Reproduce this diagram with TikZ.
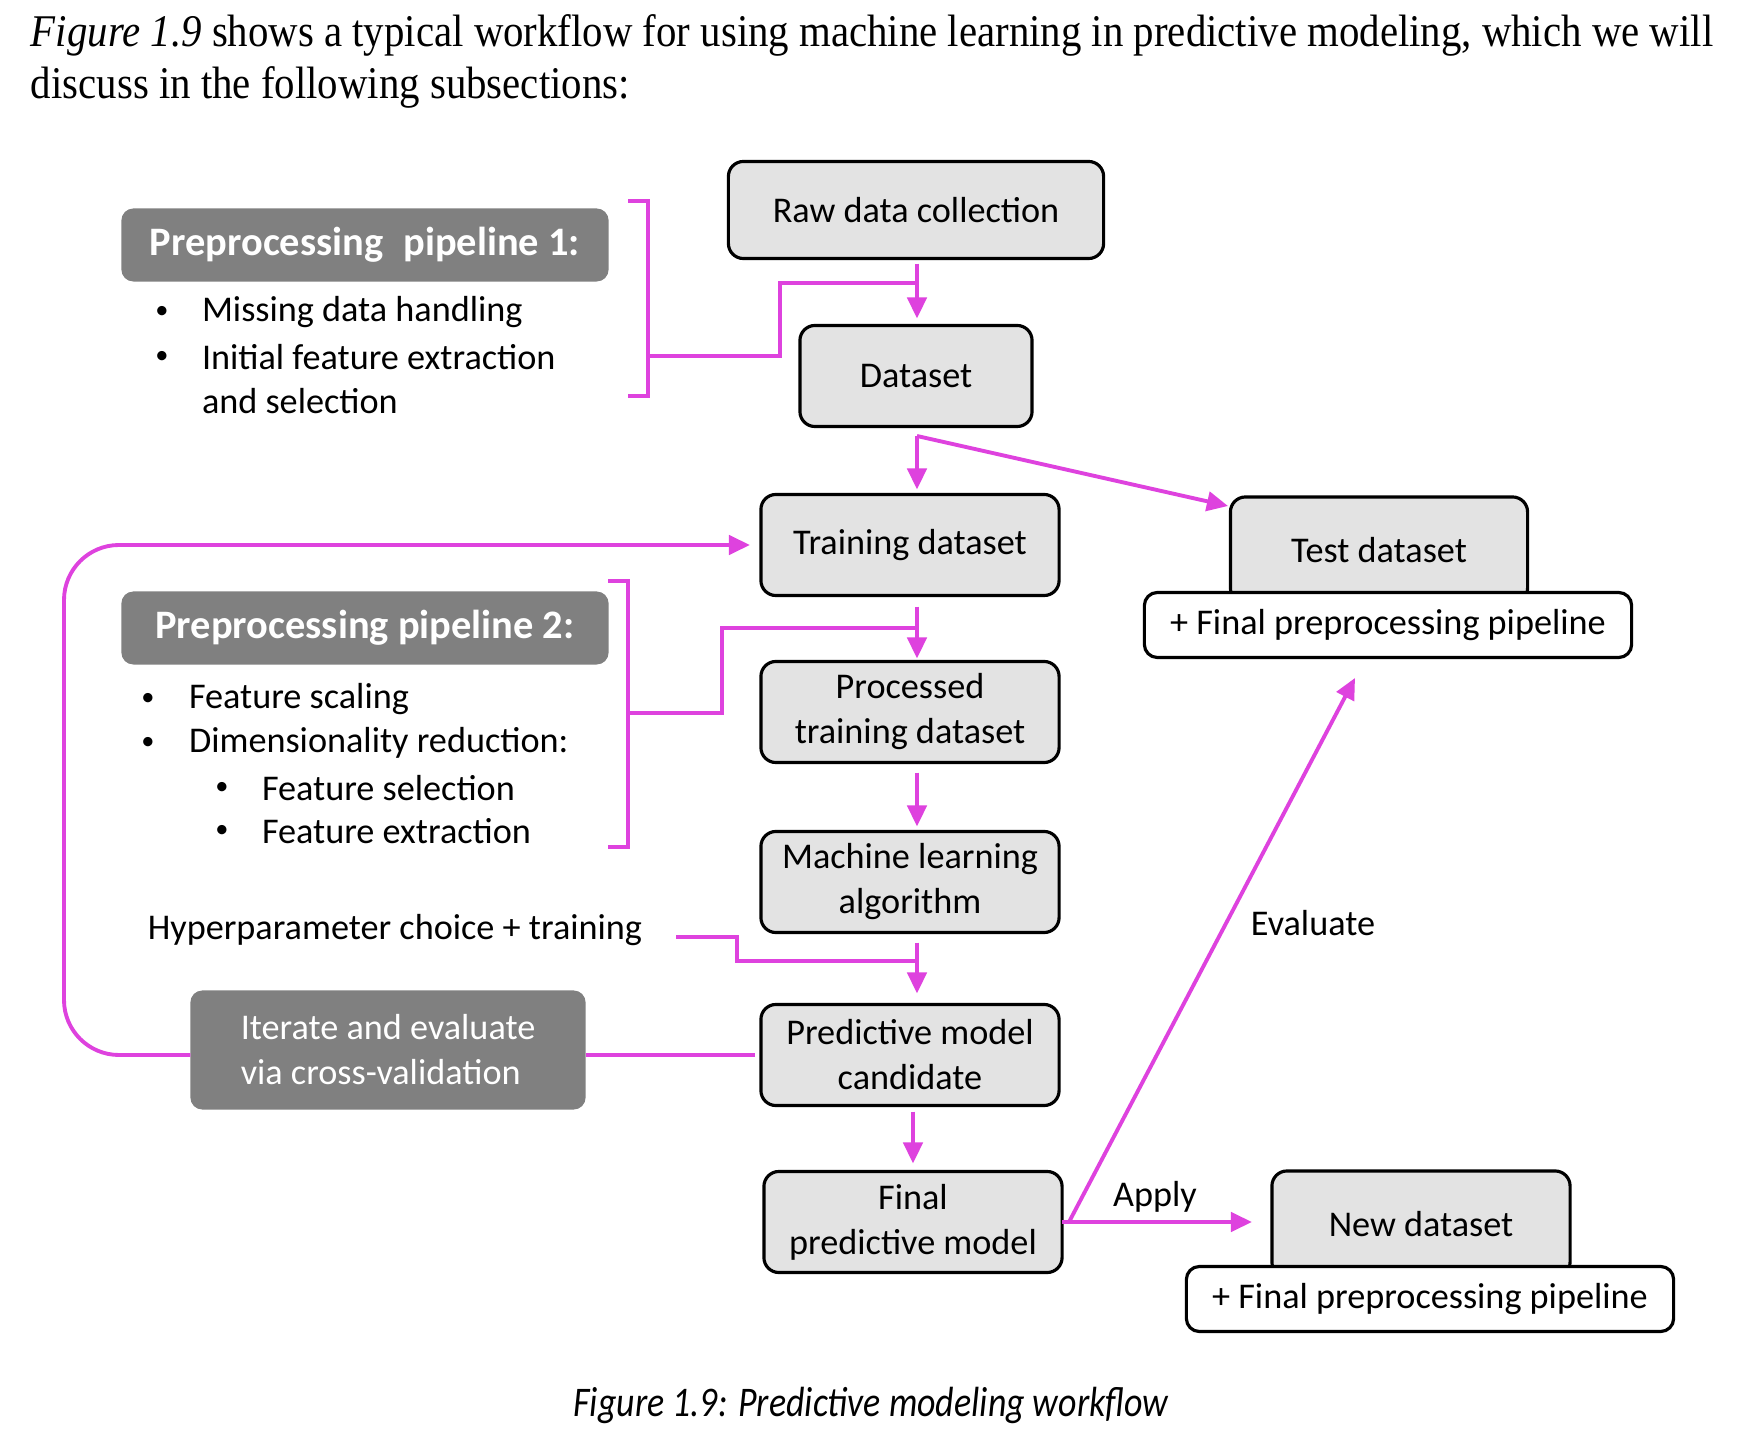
\documentclass[tikz,border=0pt]{standalone}
\usepackage{fontspec}
\setmainfont{Liberation Serif}
\newfontfamily\gill{Carlito}
\newfontfamily\bodyfont[FakeStretch=0.9]{Liberation Serif}
\newfontfamily\capfont[FakeStretch=0.85]{Carlito}
\usetikzlibrary{arrows.meta}
\definecolor{mag}{RGB}{222,66,222}
\definecolor{boxgray}{RGB}{227,227,227}
\definecolor{hdrgray}{RGB}{128,128,128}
\begin{document}
\begin{tikzpicture}[x=0.01cm,y=-0.01cm,
  every node/.style={inner sep=0pt, outer sep=0pt},
  gfont/.style={font=\gill\fontsize{10.3}{12.8}\selectfont},
  box/.style={gfont, draw=black, line width=0.9pt, fill=boxgray, rounded corners=0.15cm, align=center, minimum width=2.98cm, minimum height=1.01cm},
  wbox/.style={gfont, draw=black, line width=0.9pt, fill=white, rounded corners=0.13cm, align=center, minimum width=4.87cm, minimum height=0.65cm},
  hdr/.style={font=\gill\bfseries\fontsize{11.5}{13.5}\selectfont, text=white, fill=hdrgray, rounded corners=0.12cm, minimum width=4.87cm, minimum height=0.73cm},
  txt/.style={gfont, text=black},
  bul/.style={font=\gill\fontsize{7.5}{9}\selectfont, text=black},
  arr/.style={draw=mag, line width=1.1pt, -{Triangle[length=6pt,width=5.5pt]}},
  link/.style={draw=mag, line width=1.1pt},
]
\useasboundingbox (0,0) rectangle (1742,1437);
\fill[white] (0,0) rectangle (1742,1437);

% intro text
\node[anchor=base west, font=\bodyfont\fontsize{12.9}{15}\selectfont] (intro1) at (31,47) {\textit{Figure 1.9} shows a typical workflow for using machine learning in predictive modeling, which we will};
\node[anchor=base west, font=\bodyfont\fontsize{12.9}{15}\selectfont] (intro2) at (31,99) {discuss in the following subsections:};

% main column
\node[box, minimum width=3.75cm, minimum height=0.97cm] (Raw) at (916,210) {Raw data collection};
\node[box, minimum width=2.32cm] (Dataset) at (916,376) {Dataset};
\node[box] (Training) at (910,545) {Training dataset};
\node[box] (Processed) at (910,712) {Processed\\training dataset};
\node[box] (ML) at (910,882) {Machine learning\\algorithm};
\node[box] (Cand) at (910,1055) {Predictive model\\candidate};
\node[box] (Final) at (913,1222) {Final\\predictive model};

% right side
\node[box, minimum width=2.97cm, minimum height=1.06cm] (Test) at (1379,550) {Test dataset};
\node[wbox] (FPtop) at (1388,625) {+ Final preprocessing pipeline};
\node[box, minimum width=2.98cm, minimum height=1.06cm] (New) at (1421,1224) {New dataset};
\node[wbox] (FPbot) at (1430,1299) {+ Final preprocessing pipeline};

% left side headers
\node[hdr] (P1) at (365,245) {Preprocessing\hspace{0.5em}pipeline 1:};
\node[hdr] (P2) at (365,628) {Preprocessing pipeline 2:};
\node[hdr, font=\gill\fontsize{10.3}{12.8}\selectfont, align=left, minimum width=3.95cm, minimum height=1.19cm] (Iter) at (388,1050) {Iterate and evaluate\\via cross-validation};

% bullets pipeline 1
\node[bul] (b11) at (162,312) {•};
\node[txt, anchor=west] (t11) at (202,312) {Missing data handling};
\node[bul] (b12) at (162,357) {•};
\node[txt, anchor=west] (t12) at (202,357) {Initial feature extraction};
\node[txt, anchor=west] (t13) at (202,401) {and selection};

% bullets pipeline 2
\node[bul] (b21) at (148,699) {•};
\node[txt, anchor=west] (t21) at (189,699) {Feature scaling};
\node[bul] (b22) at (148,743) {•};
\node[txt, anchor=west] (t22) at (189,743) {Dimensionality reduction:};
\node[bul] (b23) at (222,788) {•};
\node[txt, anchor=west] (t23) at (262,788) {Feature selection};
\node[bul] (b24) at (222,831) {•};
\node[txt, anchor=west] (t24) at (262,831) {Feature extraction};

% labels
\node[txt, anchor=east] (Hyper) at (642,930) {Hyperparameter choice + training};
\node[txt] (Apply) at (1155,1197) {Apply};
\node[txt] (Eval) at (1313,923) {Evaluate};

% caption
\node[font=\capfont\itshape\fontsize{12}{14}\selectfont] (Cap) at (871,1405) {Figure 1.9: Predictive modeling workflow};

% coordinates
\coordinate (colx) at (917,0);
\coordinate (dsplit) at (917,436);
\coordinate (testtip) at (1228,506);
\coordinate (b1top) at (628,201);
\coordinate (b1bot) at (628,396);
\coordinate (b1mid) at (648,356);
\coordinate (b1j) at (917,283);
\coordinate (b2top) at (608,581);
\coordinate (b2bot) at (608,847);
\coordinate (b2mid) at (628,713);
\coordinate (b2j) at (917,628);
\coordinate (hyS) at (676,937);
\coordinate (hyJ) at (917,961);
\coordinate (fj) at (1069,1222);
\coordinate (evtip) at (1355,678);

% arrows of the main column
\draw[arr, shorten <=0.05cm, shorten >=0.07cm] (Raw.south -| colx) -- (Dataset.north -| colx);
\draw[arr, shorten >=0.05cm] (dsplit) -- (Training.north -| colx);
\draw[arr] (dsplit) -- (testtip);
\draw[arr, shorten <=0.11cm, shorten >=0.03cm] (Training.south -| colx) -- (Processed.north -| colx);
\draw[arr, shorten <=0.10cm, shorten >=0.05cm] (Processed.south -| colx) -- (ML.north -| colx);
\draw[arr, shorten <=0.10cm, shorten >=0.11cm] (ML.south -| colx) -- (Cand.north -| colx);
\draw[arr, shorten <=0.06cm, shorten >=0.08cm] (Cand.south -| Final.north) -- (Final.north);

% bracket 1
\draw[link] (b1top) -- (b1top -| b1mid) -- (b1bot -| b1mid) -- (b1bot);
\draw[link] (b1mid) -- (780,356) -- (780,283) -- (b1j);
% bracket 2
\draw[link] (b2top) -- (b2top -| b2mid) -- (b2bot -| b2mid) -- (b2bot);
\draw[link] (b2mid) -- (722,713) -- (722,628) -- (b2j);

% hyperparameter connector
\draw[link] (hyS) -- (737,937) -- (737,961) -- (hyJ);

% cross-validation loop
\draw[link, shorten >=0.06cm] (Iter.east |- Cand.west) -- (Cand.west);
\draw[arr, rounded corners=0.55cm, shorten >=0.11cm] (Iter.west |- Cand.west) -- (64,1055) -- (64,545) -- (Training.west);

% apply / evaluate
\draw[link] (Final.east) -- (fj);
\draw[arr, shorten >=0.2cm] (fj) -- (fj -| New.west);
\draw[arr] (fj) -- (evtip);
\end{tikzpicture}
\end{document}
